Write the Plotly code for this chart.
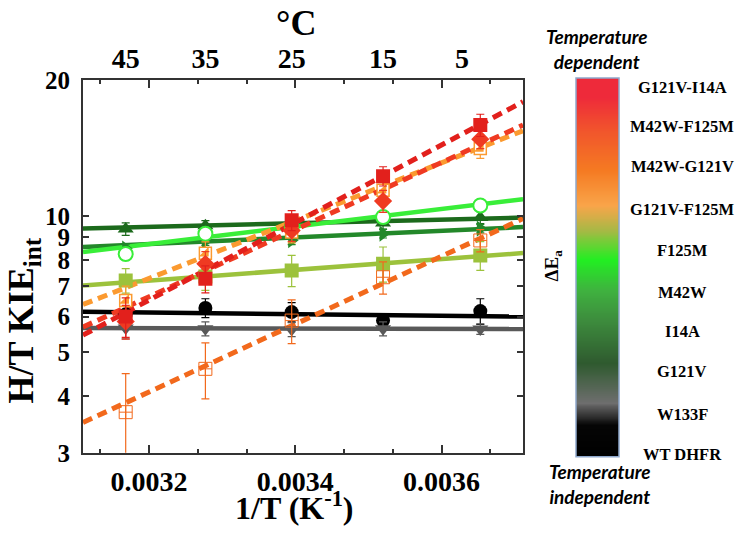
import math
import plotly.graph_objects as go

# ---------------- data ----------------
inv_T = [0.003168, 0.003277, 0.003395, 0.003520, 0.003653]
x_fit = [0.0031096, 0.0037114]

series_names = ["WT DHFR", "W133F", "G121V", "I14A", "F125M", "M42W",
                "G121V-F125M", "M42W-G121V", "M42W-F125M", "G121V-I14A"]

kie_wt = [6.07, 6.27, 6.14, 5.88, 6.17]
err_wt = [0.30, 0.30, 0.30, 0.20, 0.40]
fit_wt = [6.15, 6.00]

kie_w133f = [5.66, 5.64, 5.62, 5.64, 5.63]
err_w133f = [0.30, 0.20, 0.20, 0.20, 0.15]
fit_w133f = [5.66, 5.63]

kie_g121v = [9.37, 9.53, 9.60, 9.66, 9.93]
err_g121v = [0.30, 0.25, 0.25, 0.30, 0.30]
fit_g121v = [9.39, 9.93]

kie_i14a = [8.48, 8.82, 8.85, 9.15, 9.39]
err_i14a = [0.20, 0.20, 0.20, 0.20, 0.20]
fit_i14a = [8.55, 9.46]

kie_f125m = [8.25, 9.15, 9.46, 9.96, 10.56]
err_f125m = [0.25, 0.25, 0.25, 0.25, 0.25]
fit_f125m = [8.33, 10.9]

kie_m42w = [7.21, 7.36, 7.59, 7.85, 8.19]
err_m42w = [0.45, 0.50, 0.60, 0.70, 0.60]
fit_m42w = [7.03, 8.29]

kie_g121v_f125m = [6.51, 8.28, 9.23, 11.41, 14.12]
err_g121v_f125m = [0.50, 0.50, 0.50, 0.60, 0.70]
fit_g121v_f125m = [6.38, 15.45]

kie_m42w_g121v = [3.69, 4.60, 5.88, 7.33, 8.84]
err_m42w_g121v = [0.80, 0.65, 0.65, 0.60, 0.50]
fit_m42w_g121v = [3.50, 9.88]

kie_m42w_f125m = [5.85, 7.85, 9.30, 10.80, 14.80]
err_m42w_f125m = [0.50, 0.50, 0.50, 0.60, 0.70]
fit_m42w_f125m = [5.69, 15.9]

kie_g121v_i14a = [6.00, 7.27, 9.79, 12.26, 15.90]
err_g121v_i14a = [0.60, 0.50, 0.50, 0.60, 0.90]
fit_g121v_i14a = [5.46, 17.9]

y_ticks = [3, 4, 5, 6, 7, 8, 9, 10, 20]
x_ticks = [0.0032, 0.0034, 0.0036]
x_tick_text = ["0.0032", "0.0034", "0.0036"]
celsius_ticks = [0.003168, 0.003277, 0.003395, 0.003520, 0.003628]
celsius_text = ["45", "35", "25", "15", "5"]

cb_labels = ["G121V-I14A", "M42W-F125M", "M42W-G121V", "G121V-F125M", "F125M",
             "M42W", "I14A", "G121V", "W133F", "WT DHFR"]
cb_levels = list(range(101))

# ---------------- styles ----------------
W, H = 751, 543
SERIF = "Liberation Serif, Times New Roman, serif"
AX = "#333333"

def px(x):
    return x / W

def vy(y):
    # vertical placement helper (compensates the page's vertical fit)
    return (y - 13.2) / 0.948

def py(y):
    return 1 - vy(y) / H

def b(t):
    return "<b>" + t + "</b>"

styles = [
    # name, kie, err, fit, color, dashed, symbol, fill
    ("WT DHFR", kie_wt, err_wt, fit_wt, "#000000", False, "circle", None),
    ("W133F", kie_w133f, err_w133f, fit_w133f, "#595959", False, "triangle-down", None),
    ("G121V", kie_g121v, err_g121v, fit_g121v, "#1c6a1c", False, "triangle-up", None),
    ("I14A", kie_i14a, err_i14a, fit_i14a, "#23882a", False, "triangle-right", None),
    ("F125M", kie_f125m, err_f125m, fit_f125m, "#39ee39", False, "circle", "white"),
    ("M42W", kie_m42w, err_m42w, fit_m42w, "#9cc23c", False, "square", None),
    ("G121V-F125M", kie_g121v_f125m, err_g121v_f125m, fit_g121v_f125m, "#fb9a30", True, "half", None),
    ("M42W-G121V", kie_m42w_g121v, err_m42w_g121v, fit_m42w_g121v, "#f2691c", True, "square-cross-open", None),
    ("M42W-F125M", kie_m42w_f125m, err_m42w_f125m, fit_m42w_f125m, "#ef3a22", True, "diamond", None),
    ("G121V-I14A", kie_g121v_i14a, err_g121v_i14a, fit_g121v_i14a, "#e2201c", True, "square", None),
]

fig = go.Figure()

# fit lines: solid first, dashed on top
for dashed_pass in (False, True):
    for name, kie, err, fit, color, dashed, sym, fill in styles:
        if dashed != dashed_pass:
            continue
        fig.add_trace(go.Scatter(
            x=x_fit, y=fit, mode="lines", name=name,
            line=dict(color=color, width=5 if dashed else 4.5,
                      dash="10px,6px" if dashed else "solid"),
            hoverinfo="skip"))

# markers with error bars
for name, kie, err, fit, color, dashed, sym, fill in styles:
    eb = dict(type="data", array=err, visible=True, color=color,
              thickness=1.2, width=4)
    if sym == "half":
        fig.add_trace(go.Scatter(
            x=inv_T, y=kie, mode="markers", error_y=eb,
            marker=dict(symbol="square", size=12, color="white",
                        line=dict(color=color, width=1.5))))
        fig.add_trace(go.Scatter(
            x=inv_T, y=kie, mode="markers",
            marker=dict(symbol="triangle-se", size=11, color=color,
                        line=dict(width=0))))
    elif sym == "square-cross-open":
        fig.add_trace(go.Scatter(
            x=inv_T, y=kie, mode="markers", error_y=eb,
            marker=dict(symbol="square-cross-open", size=13, color=color,
                        line=dict(color=color, width=1))))
    else:
        fig.add_trace(go.Scatter(
            x=inv_T, y=kie, mode="markers", error_y=eb,
            marker=dict(symbol=sym, size=14,
                        color=fill if fill else color,
                        line=dict(color=color, width=2 if fill else 0))))

# invisible trace for the top (Celsius) axis
fig.add_trace(go.Scatter(x=x_fit, y=[5, 5], xaxis="x2", mode="markers",
                         marker=dict(opacity=0), hoverinfo="skip"))

# colour bar as a heatmap
cb_scale = [
    [0.00, "#000000"], [0.08, "#050505"], [0.14, "#6e6e6e"],
    [0.245, "#2f5a2f"], [0.36, "#3d8c3d"], [0.44, "#3fb23f"],
    [0.52, "#22ee22"], [0.60, "#a8b845"], [0.665, "#f9a54a"],
    [0.76, "#f57a22"], [0.865, "#f1552c"], [0.955, "#ee2a3a"],
    [1.00, "#ee2a3a"],
]
fig.add_trace(go.Heatmap(
    z=[[v] for v in cb_levels], x=[0], y=cb_levels,
    colorscale=cb_scale, showscale=False, zsmooth="best",
    xaxis="x3", yaxis="y3", hoverinfo="skip"))

x_dom = [px(83), px(523)]
y_dom = [py(452), py(80)]

tick_font = dict(family=SERIF, size=28, color="black")

fig.update_layout(
    width=W, height=H,
    margin=dict(l=0, r=0, t=0, b=0),
    paper_bgcolor="white", plot_bgcolor="white",
    showlegend=False,
    xaxis=dict(
        domain=x_dom, range=x_fit, showgrid=False, zeroline=False,
        showline=True, linecolor=AX, linewidth=2, mirror="ticks",
        tickvals=x_ticks, ticktext=[b(t) for t in x_tick_text],
        ticks="inside", ticklen=8, tickwidth=2, tickcolor=AX,
        minor=dict(dtick=0.0002 / 3, tick0=0.0032, ticks="inside",
                   ticklen=4, tickwidth=1.5, tickcolor=AX, showgrid=False),
        tickfont=tick_font, ticklabelstandoff=3,
    ),
    xaxis2=dict(
        overlaying="x", side="top", range=x_fit, anchor="y",
        tickvals=celsius_ticks, ticktext=[b(t) for t in celsius_text],
        ticks="", showgrid=False, zeroline=False, showline=False,
        tickfont=tick_font, ticklabelstandoff=5,
    ),
    yaxis=dict(
        domain=y_dom, type="log", range=[math.log10(3), math.log10(20)],
        showgrid=False, zeroline=False,
        showline=True, linecolor=AX, linewidth=2, mirror="ticks",
        tickvals=y_ticks, ticktext=[b(str(v)) for v in y_ticks],
        ticks="inside", ticklen=6, tickwidth=1.5, tickcolor=AX,
        tickfont=dict(family=SERIF, size=25, color="black"),
        ticklabelstandoff=6,
    ),
    xaxis3=dict(domain=[px(576), px(619)], anchor="y3", visible=False,
                range=[-0.5, 0.5], fixedrange=True),
    yaxis3=dict(domain=[py(456), py(78)], anchor="x3", visible=False,
                range=[-0.5, 100.5], fixedrange=True),
)

fig.add_shape(type="rect", xref="x3 domain", yref="y3 domain",
              x0=0, x1=1, y0=0, y1=1, line=dict(color="#8fa8cc", width=1.5))

ann = []
# axis titles
ann.append(dict(text=b("H/T KIE<sub>int</sub>"), x=px(24), y=py(320),
                textangle=-90, font=dict(family=SERIF, size=36, color="black")))
ann.append(dict(text=b("1/T (K<sup>-1</sup>)"), x=px(294), y=py(505),
                font=dict(family=SERIF, size=32, color="black")))
ann.append(dict(text=b("°C"), x=px(296), y=py(23),
                font=dict(family=SERIF, size=36, color="black")))
# colour bar texts
cb_y = [87.3, 126.7, 166.7, 209.3, 250, 291.7, 330.7, 370.7, 414, 453.3]
for lab, yy in zip(cb_labels, cb_y):
    ann.append(dict(text=b(lab), x=px(682), y=py(yy),
                    font=dict(family=SERIF, size=16.5, color="black")))
ann.append(dict(text="<b><i>Temperature<br>dependent</i></b>", x=px(597), y=py(49),
                font=dict(family="Lato", size=19, color="black")))
ann.append(dict(text="<b><i>Temperature<br>independent</i></b>", x=px(600), y=py(483),
                font=dict(family="Lato", size=19, color="black")))
ann.append(dict(text=b("ΔE<sub>a</sub>"), x=px(553), y=py(265), textangle=-90,
                font=dict(family=SERIF, size=19, color="black")))

for a in ann:
    a.update(xref="paper", yref="paper", showarrow=False,
             xanchor="center", yanchor="middle")
    fig.add_annotation(**a)

fig.write_html("out.html", config={"displayModeBar": False},
               post_script="document.body.style.margin='0px';")
